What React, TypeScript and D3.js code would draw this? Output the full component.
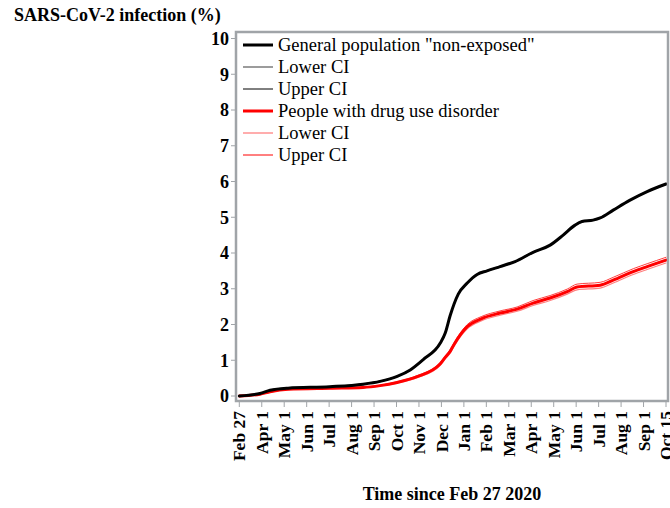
import React from "react";
import * as d3 from "d3";

const xTickLabels = ["Feb 27", "Apr 1", "May 1", "Jun 1", "Jul 1", "Aug 1", "Sep 1", "Oct 1", "Nov 1", "Dec 1", "Jan 1", "Feb 1", "Mar 1", "Apr 1", "May 1", "Jun 1", "Jul 1", "Aug 1", "Sep 1", "Oct 15"];
const yTicks = [0, 1, 2, 3, 4, 5, 6, 7, 8, 9, 10];

// x in month-tick index units (0 = Feb 27 2020, 19 = Oct 15 2021)
const genX = [0, 0.92, 1.37, 2.17, 4.04, 5.51, 6.27, 7.03, 7.61, 8.19, 8.95, 9.17, 9.39, 9.75, 10.15, 10.59, 11.03, 11.61, 12.28, 13.08, 13.84, 14.42, 14.95, 15.26, 15.75, 16.07, 16.65, 17.40, 18.16, 19];
const genMid = [0, 0.07, 0.16, 0.22, 0.26, 0.33, 0.41, 0.55, 0.73, 1.02, 1.48, 1.76, 2.25, 2.85, 3.16, 3.40, 3.50, 3.62, 3.76, 4.02, 4.22, 4.50, 4.78, 4.88, 4.92, 4.98, 5.20, 5.48, 5.72, 5.93];
const genLo = [0, 0.07, 0.15, 0.21, 0.25, 0.32, 0.40, 0.54, 0.72, 1.01, 1.47, 1.75, 2.24, 2.84, 3.15, 3.39, 3.49, 3.61, 3.75, 4.01, 4.21, 4.49, 4.77, 4.87, 4.91, 4.97, 5.19, 5.47, 5.71, 5.92];
const genHi = [0, 0.07, 0.17, 0.23, 0.27, 0.34, 0.42, 0.56, 0.74, 1.03, 1.49, 1.77, 2.26, 2.86, 3.17, 3.41, 3.51, 3.63, 3.77, 4.03, 4.23, 4.51, 4.79, 4.89, 4.93, 4.99, 5.21, 5.49, 5.73, 5.94];

const dudX = [0, 0.92, 1.37, 2.17, 4.04, 5.51, 6.27, 7.03, 7.92, 8.95, 9.17, 9.39, 9.57, 10.15, 10.77, 11.61, 12.37, 13.08, 13.84, 14.6, 15.04, 16.07, 16.65, 17.54, 18.16, 19];
const dudMid = [0, 0.05, 0.12, 0.19, 0.22, 0.24, 0.29, 0.38, 0.54, 0.90, 1.08, 1.25, 1.45, 1.94, 2.16, 2.32, 2.43, 2.60, 2.74, 2.92, 3.05, 3.10, 3.24, 3.48, 3.62, 3.80];
const dudLo = [0, 0.04, 0.11, 0.18, 0.21, 0.23, 0.28, 0.36, 0.51, 0.86, 1.04, 1.20, 1.40, 1.88, 2.10, 2.26, 2.37, 2.53, 2.67, 2.85, 2.97, 3.02, 3.16, 3.40, 3.54, 3.72];
const dudHi = [0, 0.06, 0.13, 0.20, 0.23, 0.25, 0.30, 0.40, 0.57, 0.94, 1.12, 1.30, 1.50, 2.00, 2.22, 2.38, 2.49, 2.67, 2.81, 2.99, 3.13, 3.18, 3.32, 3.56, 3.70, 3.88];

const legendItems = [
  { label: 'General population "non-exposed"', color: "#000000", width: 3 },
  { label: "Lower CI", color: "#666666", width: 1.3 },
  { label: "Upper CI", color: "#000000", width: 1 },
  { label: "People with drug use disorder", color: "#ff0000", width: 3 },
  { label: "Lower CI", color: "#ff8080", width: 1.3 },
  { label: "Upper CI", color: "#ff0000", width: 1 },
];

const W = 670;
const H = 508;
const frame = { left: 236, top: 32, right: 668, bottom: 401 };
const FONT = "'Liberation Serif', 'Times New Roman', serif";

export default function App() {
  const x = d3.scaleLinear().domain([0, 19]).range([239.3, 666]);
  const y = d3.scaleLinear().domain([0, 10]).range([396, 38.5]);
  const line = d3
    .line<[number, number]>()
    .x((d) => x(d[0]))
    .y((d) => y(d[1]))
    .curve(d3.curveMonotoneX);
  const mk = (xs: number[], ys: number[]) => line(xs.map((v, i) => [v, ys[i]] as [number, number])) || "";

  const series = [
    { d: mk(dudX, dudLo), color: "#ff8080", width: 1.2 },
    { d: mk(dudX, dudHi), color: "#ff4040", width: 1 },
    { d: mk(dudX, dudMid), color: "#ff0000", width: 3 },
    { d: mk(genX, genLo), color: "#666666", width: 1.2 },
    { d: mk(genX, genHi), color: "#000000", width: 1 },
    { d: mk(genX, genMid), color: "#000000", width: 3 },
  ];

  return (
    <svg width={W} height={H} style={{ position: "absolute", left: 0, top: 0, background: "#fff" }} fontFamily={FONT}>
      <rect x={0} y={0} width={W} height={H} fill="#ffffff" />
      <text x={14} y={21} fontSize={18} fontWeight="bold" fill="#000">
        SARS-CoV-2 infection (%)
      </text>
      <defs>
        <clipPath id="plotclip">
          <rect x={frame.left} y={frame.top} width={frame.right - frame.left} height={frame.bottom - frame.top} />
        </clipPath>
      </defs>
      <g clipPath="url(#plotclip)">
        {series.map((s, i) => (
          <path key={i} d={s.d} fill="none" stroke={s.color} strokeWidth={s.width} strokeLinejoin="round" strokeLinecap="round" />
        ))}
      </g>
      <rect
        x={frame.left}
        y={frame.top}
        width={frame.right - frame.left}
        height={frame.bottom - frame.top}
        fill="none"
        stroke="#a0a4a8"
        strokeWidth={2.5}
      />
      {/* y axis */}
      {yTicks.map((t) => (
        <g key={t}>
          <line x1={frame.left - 5} x2={frame.left - 1} y1={y(t)} y2={y(t)} stroke="#a0a4a8" strokeWidth={1} />
          <text x={229} y={y(t)} dy="0.35em" textAnchor="end" fontSize={18} fontWeight="bold">
            {t}
          </text>
        </g>
      ))}
      {/* x axis */}
      {xTickLabels.map((lab, i) => (
        <g key={i}>
          <line x1={x(i)} x2={x(i)} y1={frame.bottom + 1} y2={frame.bottom + 6} stroke="#a0a4a8" strokeWidth={1} />
          <text
            transform={`translate(${x(i)},${411}) rotate(-90)`}
            dy="0.35em"
            textAnchor="end"
            fontSize={17.5}
            fontWeight="bold"
          >
            {lab}
          </text>
        </g>
      ))}
      <text x={452} y={500} textAnchor="middle" fontSize={18} fontWeight="bold">
        Time since Feb 27 2020
      </text>
      {/* legend */}
      {legendItems.map((it, i) => {
        const cy = 45 + i * 22;
        return (
          <g key={i}>
            <line x1={243} x2={273} y1={cy} y2={cy} stroke={it.color} strokeWidth={it.width} />
            <text x={278} y={cy} dy="0.35em" fontSize={18.5}>
              {it.label}
            </text>
          </g>
        );
      })}
    </svg>
  );
}
